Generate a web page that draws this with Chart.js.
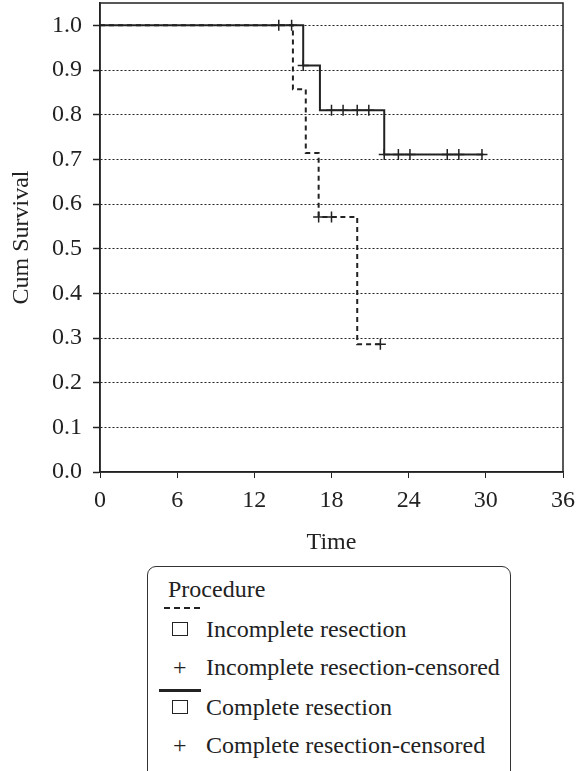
<!DOCTYPE html>
<html>
<head>
<meta charset="utf-8">
<script src="https://cdn.jsdelivr.net/npm/chart.js@4/dist/chart.umd.min.js"></script>
<style>
  body { margin: 0; background: #fff; width: 587px; height: 771px; overflow: hidden; position: relative; }
  #wrap { position: absolute; left: 0; top: -4px; width: 587px; height: 564px; }
  .lg { position: absolute; font-family: "Liberation Serif", "Times New Roman", serif; font-size: 24px; line-height: 24px; color: #222; white-space: nowrap; }
  #box { position: absolute; left: 147px; top: 566px; width: 362px; height: 240px; border: 1.5px solid #333; border-radius: 9px; }
  .sq { position: absolute; width: 14px; height: 12px; border: 1.5px solid #222; }
</style>
</head>
<body>
<div id="wrap"><canvas id="km" width="587" height="564"></canvas></div>

<div id="box"></div>
<div class="lg" style="left:168px; top:577px;">Procedure</div>
<div style="position:absolute; left:164px; top:607px; width:38px; height:2px; background:repeating-linear-gradient(90deg,#222 0 6px,transparent 6px 10px);"></div>
<div class="sq" style="left:172px; top:622px;"></div>
<div class="lg" style="left:206px; top:617px;">Incomplete resection</div>
<div class="lg" style="left:173px; top:655px;">+</div>
<div class="lg" style="left:206px; top:655px;">Incomplete resection-censored</div>
<div style="position:absolute; left:159px; top:689px; width:42px; height:2.5px; background:#222;"></div>
<div class="sq" style="left:172px; top:700px;"></div>
<div class="lg" style="left:206px; top:695px;">Complete resection</div>
<div class="lg" style="left:173px; top:733px;">+</div>
<div class="lg" style="left:206px; top:733px;">Complete resection-censored</div>

<script>
// Kaplan-Meier steps (time in months)
const incTimes = [0, 15.0, 16.0, 17.0, 20.0, 21.9];
const incSurv = [1.0, 0.857, 0.714, 0.571, 0.286, 0.286];
const incCensTimes = [17.0, 18.0, 21.8];
const incCensSurv = [0.571, 0.571, 0.286];

const compTimes = [0, 15.8, 17.1, 22.1, 29.8];
const compSurv = [1.0, 0.91, 0.81, 0.711, 0.711];
const compCensTimes = [13.9, 14.9, 15.8, 18.0, 18.9, 20.0, 20.9, 22.1, 23.2, 24.1, 27.0, 27.9, 29.7];
const compCensSurv = [1.0, 1.0, 0.91, 0.81, 0.81, 0.81, 0.81, 0.711, 0.711, 0.711, 0.711, 0.711, 0.711];

const xTicks = [0, 6, 12, 18, 24, 30, 36];
const yTicks = [0, 0.1, 0.2, 0.3, 0.4, 0.5, 0.6, 0.7, 0.8, 0.9, 1.0];

const ink = "#222";
const serif = "'Liberation Serif', 'Times New Roman', serif";

function pts(xs, ys) {
    return xs.map((x, i) => ({ x: x, y: ys[i] }));
}

// box round the plot
const frame = {
    id: "frame",
    afterDatasetsDraw(chart) {
        const a = chart.chartArea;
        const ctx = chart.ctx;
        ctx.save();
        ctx.setLineDash([]);
        ctx.strokeStyle = ink;
        ctx.lineWidth = 1.5;
        ctx.strokeRect(a.left, a.top, a.right - a.left, a.bottom - a.top);
        ctx.restore();
    }
};

new Chart(document.getElementById("km"), {
    type: "line",
    data: {
        datasets: [
            {
                data: pts(incTimes, incSurv),
                stepped: true,
                borderColor: ink,
                borderWidth: 2,
                borderDash: [5, 4],
                pointRadius: 0,
                fill: false
            },
            {
                data: pts(compTimes, compSurv),
                stepped: true,
                borderColor: ink,
                borderWidth: 2,
                pointRadius: 0,
                fill: false
            },
            {
                data: pts(incCensTimes, incCensSurv),
                showLine: false,
                pointStyle: "cross",
                pointRadius: 5.5,
                borderColor: ink,
                borderWidth: 1.5
            },
            {
                data: pts(compCensTimes, compCensSurv),
                showLine: false,
                pointStyle: "cross",
                pointRadius: 5.5,
                borderColor: ink,
                borderWidth: 1.5
            }
        ]
    },
    options: {
        responsive: false,
        animation: false,
        layout: { padding: { top: 0, right: 24, left: 0, bottom: 0 } },
        plugins: { legend: { display: false }, tooltip: { enabled: false } },
        scales: {
            x: {
                type: "linear",
                min: 0,
                max: 36,
                afterBuildTicks: s => { s.ticks = xTicks.map(v => ({ value: v })); },
                afterFit: s => { s.height = 88; s.paddingLeft = 0; s.paddingRight = 0; },
                grid: { drawOnChartArea: false, tickLength: 6, tickColor: ink, color: ink },
                border: { color: ink, width: 1.5 },
                ticks: { color: ink, font: { family: serif, size: 24 }, padding: 8, maxRotation: 0 },
                title: { display: true, text: "Time", color: ink, font: { family: serif, size: 24 }, padding: { top: 3, bottom: 3 } }
            },
            y: {
                min: 0,
                max: 1.05,
                afterBuildTicks: s => { s.ticks = yTicks.map(v => ({ value: v })); },
                afterFit: s => { s.width = 100; s.paddingTop = 0; s.paddingBottom = 0; },
                grid: {
                    color: c => (c.tick && c.tick.value === 0) ? "rgba(0,0,0,0)" : "#222",
                    lineWidth: 1,
                    tickLength: 7,
                    tickColor: ink,
                    tickWidth: 1.5,
                    tickBorderDash: []
                },
                border: { color: ink, width: 1.5, dash: [2, 2] },
                ticks: { color: ink, font: { family: serif, size: 24 }, padding: 11, callback: v => v.toFixed(1) },
                title: { display: true, text: "Cum Survival", color: ink, font: { family: serif, size: 24 }, padding: { top: 7, bottom: 0 } }
            }
        }
    },
    plugins: [frame]
});
</script>
</body>
</html>
